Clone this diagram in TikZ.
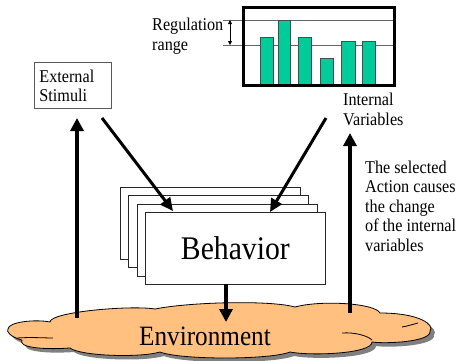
\documentclass[tikz,border=0pt]{standalone}
\usepackage{fontspec}
\setmainfont{Liberation Serif}[FakeStretch=0.9]
\usetikzlibrary{arrows.meta}
\definecolor{barteal}{RGB}{0,204,153}
\definecolor{cloudorange}{RGB}{255,192,128}
\begin{document}
\begin{tikzpicture}[x=1pt,y=-1pt,
  small/.style={font=\fontsize{18}{19.5}\selectfont, inner sep=0pt, anchor=base west, align=left},
  bigarrow/.style={line width=4.5pt, -{Triangle[length=13pt,width=13pt]}},
  diagarrow/.style={line width=3pt, -{Triangle[length=13pt,width=12pt]}},
  behbox/.style={draw=black!85, line width=0.8pt, fill=white, minimum width=180pt, minimum height=72pt, anchor=north west, inner sep=0pt},
  bar/.style={draw=black!70, line width=0.8pt, fill=barteal},
  regline/.style={draw=black!60, line width=0.8pt},
  cloudline/.style={draw=black, line width=0.8pt}]
\useasboundingbox (0,0) rectangle (456,360);

% ---------- Cloud (environment) ----------
\def\cloudpath{(8,329) .. controls (8,322) and (35,319) .. (50,322)
  .. controls (50,312) and (130,305) .. (155,309)
  .. controls (190,302) and (270,300) .. (295,307)
  .. controls (320,300) and (375,303) .. (380,313)
  .. controls (420,313) and (435,325) .. (430,331)
  .. controls (432,342) and (385,344) .. (372,342)
  .. controls (372,354) and (310,356) .. (290,352)
  .. controls (270,360) and (180,360) .. (160,352)
  .. controls (140,358) and (80,356) .. (70,348)
  .. controls (40,350) and (18,347) .. (22,340)
  .. controls (10,337) and (6,331) .. (8,329) -- cycle}
\fill[black!50, shift={(4,4)}] \cloudpath;
\filldraw[fill=cloudorange, draw=black, line width=0.8pt] \cloudpath;
\draw[cloudline] (17,338) .. controls (30,337) and (45,338) .. (53,338);
\draw[cloudline] (342,333) .. controls (355,332) and (368,336) .. (372,340);
\draw[cloudline] (402,327) .. controls (408,326) and (414,324) .. (418,323);
\node[font=\fontsize{28}{30}\selectfont, inner sep=0pt] (env) at (205,336) {Environment};

% ---------- Behavior stack ----------
\node[behbox] (b1) at (119.5,186.5) {};
\node[behbox] (b2) at (128,195) {};
\node[behbox] (b3) at (136.5,203.5) {};
\node[behbox, font=\fontsize{33}{36}\selectfont] (beh) at (145,212) {Behavior};

% ---------- External stimuli ----------
\node[draw=black!65, line width=0.8pt, anchor=north west, minimum width=77pt, minimum height=46pt,
  inner xsep=5pt, inner ysep=0pt, align=left, text width=67pt, font=\fontsize{18}{19}\selectfont] (ext) at (34,62) {External\\Stimuli};

% ---------- Internal variables chart ----------
\draw[regline] (223,20) -- (396,20);
\draw[regline] (223,45) -- (396,45);
\draw[bar] (260,84) rectangle (273,37);
\draw[bar] (278,84) rectangle (290,20);
\draw[bar] (298,84) rectangle (311,37);
\draw[bar] (320,84) rectangle (333,58);
\draw[bar] (341,84) rectangle (355,41);
\draw[bar] (362,84) rectangle (375,41);
\node[draw=black, line width=3pt, anchor=north west, minimum width=151pt, minimum height=78pt, inner sep=0pt] (chart) at (242,6) {};
\coordinate (regtop) at (230,20);
\coordinate (regbot) at (230,45);
\draw[line width=0.8pt, {Triangle[length=4pt,width=4pt]}-{Triangle[length=4pt,width=4pt]}] (regtop) -- (regbot);
\node[small] (reg) at (152,50) {Regulation\\range};
\node[small] (intvar) at (343,125) {Internal\\Variables};
\node[small] (sel) at (365,251) {The selected\\Action causes\\the change\\of the internal\\variables};

% ---------- Arrows ----------
\coordinate (envleft) at (77,318);
\coordinate (extin) at (77,118);
\coordinate (extout) at (102,118);
\coordinate (behinl) at (173,211);
\coordinate (intout) at (326,118);
\coordinate (behinr) at (270,212);
\coordinate (behout) at (226,284);
\coordinate (envin) at (226,322);
\coordinate (envright) at (350,313);
\coordinate (intin) at (350,133);
\draw[bigarrow] (envleft) -- (extin);
\draw[diagarrow] (extout) -- (behinl);
\draw[diagarrow] (intout) -- (behinr);
\draw[bigarrow] (behout) -- (envin);
\draw[bigarrow] (envright) -- (intin);
\end{tikzpicture}
\end{document}
